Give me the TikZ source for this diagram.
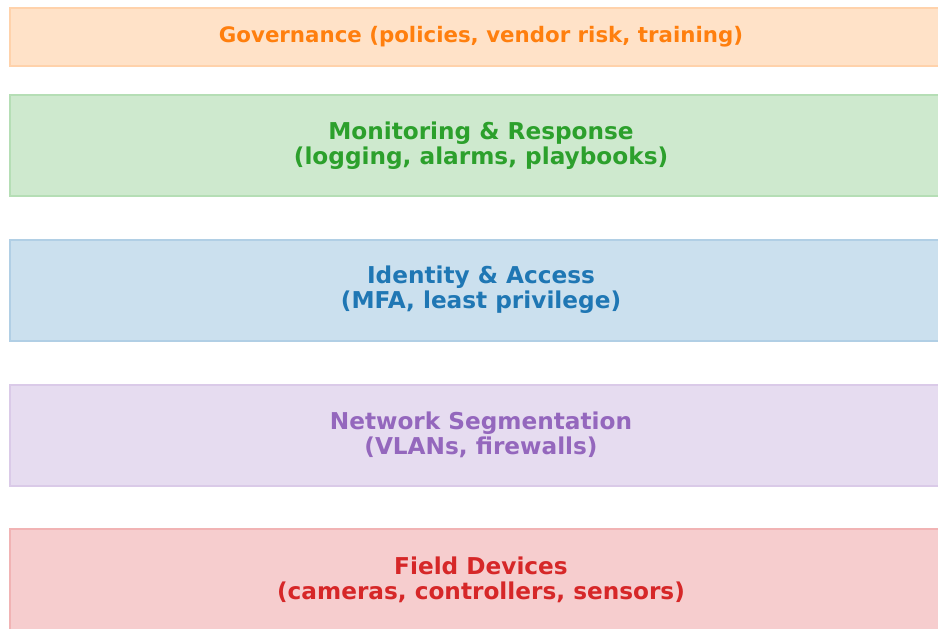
\documentclass[tikz,border=0pt]{standalone}
\usepackage{fontspec}
\setmainfont{DejaVu Sans}
\usepackage{xcolor}
\usetikzlibrary{positioning}
\definecolor{tabOrange}{HTML}{FF7F0E}
\definecolor{tabGreen}{HTML}{2CA02C}
\definecolor{tabBlue}{HTML}{1F77B4}
\definecolor{tabPurple}{HTML}{9467BD}
\definecolor{tabRed}{HTML}{D62728}
\begin{document}
\begin{tikzpicture}[x=0.75pt,y=-0.75pt,
  layer/.style={draw=#1!35, fill=#1!23, line width=1.5pt, text=#1,
    minimum width=706.5pt, minimum height=75.75pt, inner sep=0pt,
    align=center, font=\bfseries\fontsize{17.4}{18.75}\selectfont}]
\useasboundingbox (0,0) rectangle (938,628);
\clip (0,0) rectangle (938,628);
\node[layer=tabOrange, minimum height=43.5pt, font=\bfseries\fontsize{16}{18.75}\selectfont] (gov) at (481,37) {Governance (policies, vendor risk, training)};
\node[layer=tabGreen] (mon) at (481,145.5) {Monitoring \& Response\\(logging, alarms, playbooks)};
\node[layer=tabBlue] (ident) at (481,290) {Identity \& Access\\(MFA, least privilege)};
\node[layer=tabPurple] (netseg) at (481,435) {Network Segmentation\\(VLANs, firewalls)};
\node[layer=tabRed] (field) at (481,579.5) {Field Devices\\(cameras, controllers, sensors)};
\end{tikzpicture}
\end{document}
